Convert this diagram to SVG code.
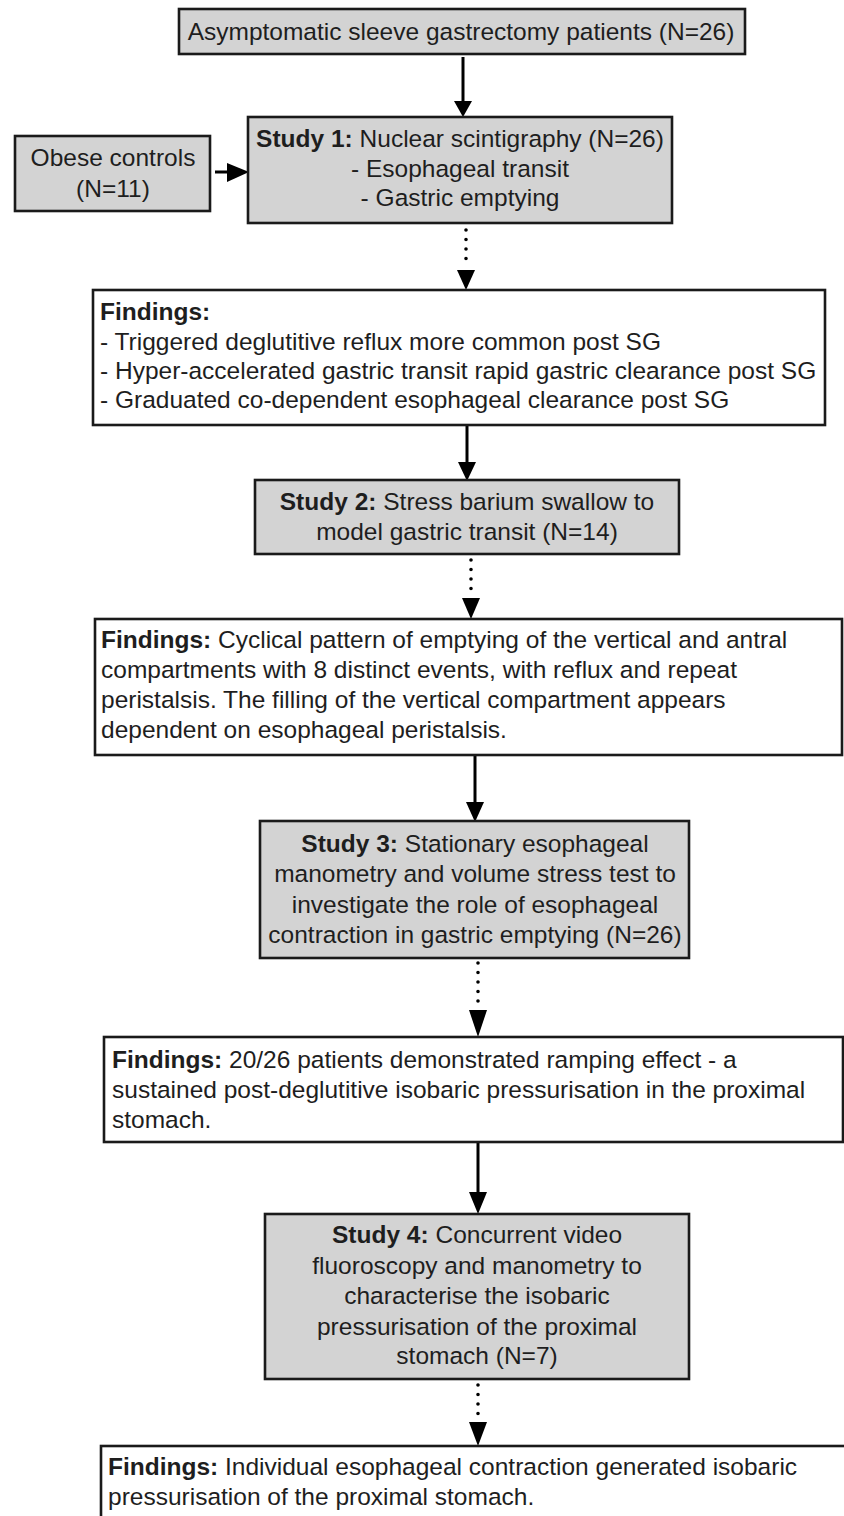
<svg xmlns="http://www.w3.org/2000/svg" width="844" height="1516" viewBox="0 0 844 1516">
<defs>
<style>
.box{stroke:#1a1a1a;stroke-width:2.6}
.g{fill:#d3d3d3}
.w{fill:#ffffff}
text{font-family:"Liberation Sans",Arial,sans-serif;font-size:24.5px;fill:#1e1e1e}
.c{text-anchor:middle}
.b{font-weight:bold}
.solid{stroke:#000;stroke-width:3;fill:none}
.dot{stroke:#000;stroke-width:3.6;fill:none;stroke-linecap:round;stroke-dasharray:0 9.5}
.head{fill:#000}
</style>
</defs>
<rect width="844" height="1516" fill="#ffffff"/>

<g id="connectors">
  <line class="solid" x1="463" y1="57" x2="463" y2="103"/>
  <polygon class="head" points="454,101 472,101 463,117"/>
  <line class="solid" x1="215" y1="172" x2="230" y2="172"/>
  <polygon class="head" points="227,163 227,182 249,172"/>
  <line class="dot" x1="466" y1="230" x2="466" y2="268"/>
  <polygon class="head" points="457,270 475,270 466,290"/>
  <line class="solid" x1="467" y1="426" x2="467" y2="464"/>
  <polygon class="head" points="458,462 476,462 467,481"/>
  <line class="dot" x1="471" y1="560" x2="471" y2="593"/>
  <polygon class="head" points="462,598 480,598 471,619"/>
  <line class="solid" x1="475" y1="756" x2="475" y2="804"/>
  <polygon class="head" points="466,802 484,802 475,822"/>
  <line class="dot" x1="478" y1="963" x2="478" y2="1003"/>
  <polygon class="head" points="469,1010 487,1010 478,1037"/>
  <line class="solid" x1="478" y1="1143" x2="478" y2="1194"/>
  <polygon class="head" points="469,1192 487,1192 478,1214"/>
  <line class="dot" x1="478" y1="1385" x2="478" y2="1415"/>
  <polygon class="head" points="469,1422 487,1422 478,1446"/>
</g>

<g id="patients">
  <rect class="box g" x="179" y="9" width="566" height="45"/>
  <text class="c" x="461" y="40">Asymptomatic sleeve gastrectomy patients (N=26)</text>
</g>

<g id="obese">
  <rect class="box g" x="15" y="136" width="195" height="75"/>
  <text class="c" x="113" y="166">Obese controls</text>
  <text class="c" x="113" y="197">(N=11)</text>
</g>

<g id="study1">
  <rect class="box g" x="248" y="117" width="424" height="106"/>
  <text class="c" x="460" y="147"><tspan class="b">Study 1:</tspan> Nuclear scintigraphy (N=26)</text>
  <text class="c" x="460" y="177">- Esophageal transit</text>
  <text class="c" x="460" y="206">- Gastric emptying</text>
</g>

<g id="findings1">
  <rect class="box w" x="93" y="290" width="732" height="135"/>
  <text class="b" x="100" y="320">Findings:</text>
  <text x="100" y="350">- Triggered deglutitive reflux more common post SG</text>
  <text x="100" y="379">- Hyper-accelerated gastric transit rapid gastric clearance post SG</text>
  <text x="100" y="408">- Graduated co-dependent esophageal clearance post SG</text>
</g>

<g id="study2">
  <rect class="box g" x="255" y="480" width="424" height="74"/>
  <text class="c" x="467" y="510"><tspan class="b">Study 2:</tspan> Stress barium swallow to</text>
  <text class="c" x="467" y="540">model gastric transit (N=14)</text>
</g>

<g id="findings2">
  <rect class="box w" x="95" y="619" width="747" height="136"/>
  <text x="101" y="648"><tspan class="b">Findings:</tspan> Cyclical pattern of emptying of the vertical and antral</text>
  <text x="101" y="678">compartments with 8 distinct events, with reflux and repeat</text>
  <text x="101" y="708">peristalsis. The filling of the vertical compartment appears</text>
  <text x="101" y="738">dependent on esophageal peristalsis.</text>
</g>

<g id="study3">
  <rect class="box g" x="260" y="821" width="429" height="137"/>
  <text class="c" x="475" y="852"><tspan class="b">Study 3:</tspan> Stationary esophageal</text>
  <text class="c" x="475" y="882">manometry and volume stress test to</text>
  <text class="c" x="475" y="913">investigate the role of esophageal</text>
  <text class="c" x="475" y="943">contraction in gastric emptying (N=26)</text>
</g>

<g id="findings3">
  <rect class="box w" x="104" y="1037" width="739" height="105"/>
  <text x="112" y="1068"><tspan class="b">Findings:</tspan> 20/26 patients demonstrated ramping effect - a</text>
  <text x="112" y="1098">sustained post-deglutitive isobaric pressurisation in the proximal</text>
  <text x="112" y="1128">stomach.</text>
</g>

<g id="study4">
  <rect class="box g" x="265" y="1214" width="424" height="165"/>
  <text class="c" x="477" y="1243"><tspan class="b">Study 4:</tspan> Concurrent video</text>
  <text class="c" x="477" y="1274">fluoroscopy and manometry to</text>
  <text class="c" x="477" y="1304">characterise the isobaric</text>
  <text class="c" x="477" y="1335">pressurisation of the proximal</text>
  <text class="c" x="477" y="1364">stomach (N=7)</text>
</g>

<g id="findings4">
  <rect class="box w" x="101" y="1446" width="760" height="90"/>
  <text x="108" y="1475"><tspan class="b">Findings:</tspan> Individual esophageal contraction generated isobaric</text>
  <text x="108" y="1505">pressurisation of the proximal stomach.</text>
</g>
</svg>
